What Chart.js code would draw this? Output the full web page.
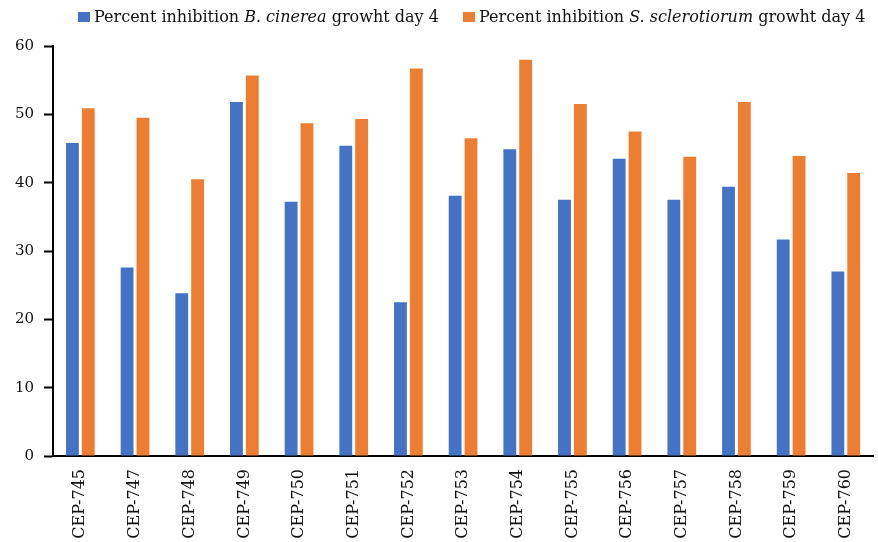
<!DOCTYPE html>
<html lang="en">
  <head>
    <meta charset="UTF-8" />
    <title>Percent inhibition</title>
    <script src="https://cdn.jsdelivr.net/npm/chart.js@4"></script>
    <style>
      body { margin: 0; background: #fff; }
      #wrap { position: relative; width: 878px; height: 542px; overflow: hidden; }
      #legend {
        position: absolute; top: 4px; left: 0; width: 878px; height: 24px;
        font-family: "DejaVu Serif", serif; font-size: 16px; color: #111;
        white-space: nowrap;
      }
      .item { position: absolute; top: 3px; display: flex; align-items: center; }
      .box { width: 12px; height: 10px; margin-right: 4px; }
    </style>
  </head>
  <body>
    <div id="wrap">
      <canvas id="grafico" width="878" height="542"></canvas>
      <div id="legend">
        <div class="item" style="left: 78px"><span class="box" style="background:#4472c4"></span><span>Percent inhibition <i>B. cinerea</i> growht day 4</span></div>
        <div class="item" style="left: 463px"><span class="box" style="background:#ed7d31"></span><span>Percent inhibition <i>S. sclerotiorum</i> growht day 4</span></div>
      </div>
    </div>

<script>
  // isolados
  const categorias = ["CEP-745", "CEP-747", "CEP-748", "CEP-749", "CEP-750", "CEP-751", "CEP-752",
    "CEP-753", "CEP-754", "CEP-755", "CEP-756", "CEP-757", "CEP-758", "CEP-759", "CEP-760"];

  // inibicao B. cinerea (dia 4)
  const bCinerea = [45.8, 27.6, 23.8, 51.8, 37.2, 45.4, 22.5, 38.1, 44.9, 37.5, 43.5, 37.5, 39.4, 31.7, 27.0];

  // inibicao S. sclerotiorum (dia 4)
  const sSclerotiorum = [50.9, 49.5, 40.5, 55.7, 48.7, 49.3, 56.7, 46.5, 58.0, 51.5, 47.5, 43.8, 51.8, 43.9, 41.4];

  const ticksY = [0, 10, 20, 30, 40, 50, 60];

  const fonte = "'DejaVu Serif', serif";

  const ctx = document.getElementById("grafico");

  new Chart(ctx, {
    type: "bar",
    data: {
      labels: categorias,
      datasets: [
        {
          label: "Percent inhibition B. cinerea growht day 4",
          data: bCinerea,
          backgroundColor: "#4472c4",
          categoryPercentage: 0.58,
          barPercentage: 0.81,
        },
        {
          label: "Percent inhibition S. sclerotiorum growht day 4",
          data: sSclerotiorum,
          backgroundColor: "#ed7d31",
          categoryPercentage: 0.58,
          barPercentage: 0.81,
        },
      ],
    },
    options: {
      responsive: false,
      animation: false,
      layout: { padding: { top: 46, left: 0, right: 0, bottom: 0 } },
      plugins: {
        legend: { display: false },
        tooltip: { enabled: false },
      },
      scales: {
        x: {
          grid: { display: false, drawTicks: false },
          border: { display: true, color: "#000", width: 2 },
          ticks: {
            minRotation: 90,
            maxRotation: 90,
            padding: 13,
            color: "#111",
            font: { family: fonte, size: 16 },
          },
          afterFit: (scale) => { scale.height = 86; },
        },
        y: {
          min: 0,
          max: 60,
          afterBuildTicks: (scale) => { scale.ticks = ticksY.map((v) => ({ value: v })); },
          grid: { drawOnChartArea: false, drawTicks: true, tickLength: 9, color: "#000", tickWidth: 2 },
          border: { display: true, color: "#000", width: 2 },
          ticks: {
            padding: 10,
            color: "#111",
            font: { family: fonte, size: 15 },
          },
          afterFit: (scale) => { scale.width = 53; },
        },
      },
    },
  });
</script>
  </body>
</html>
